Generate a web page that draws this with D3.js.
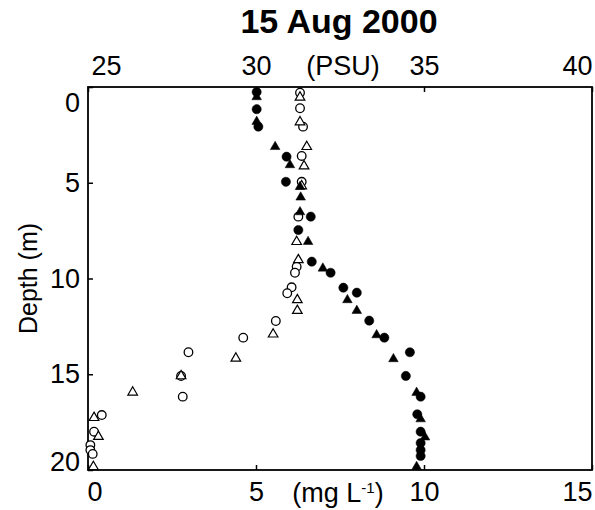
<!DOCTYPE html>
<html>
<head>
<meta charset="utf-8">
<script src="https://cdn.jsdelivr.net/npm/d3@7"></script>
<style>
  body { margin: 0; background: #fff; }
  svg text { font-family: Arial, "Liberation Sans", sans-serif; fill: #000; }
</style>
</head>
<body>
<div id="chart"></div>
<script>
// salinity (top axis, PSU) - filled markers
const salCircleDepth = [0.26, 1.16, 2.07, 3.64, 4.95, 6.77, 7.47, 9.12, 9.70, 10.48, 10.74, 12.2, 13.09, 13.85, 15.09, 16.17, 17.09, 18.0, 18.59, 18.96, 19.27];
const salCircleValue = [30.02, 30.02, 30.07, 30.91, 30.89, 31.63, 31.26, 31.66, 32.22, 32.60, 33.0, 33.37, 33.82, 34.58, 34.46, 34.90, 34.80, 34.90, 34.90, 34.90, 34.90];
const salTriDepth = [0.52, 1.81, 3.12, 4.07, 5.21, 5.76, 6.53, 8.08, 9.47, 11.12, 11.68, 12.95, 14.2, 15.96, 17.34, 18.29, 19.83];
const salTriValue = [30.02, 30.02, 30.57, 31.01, 31.31, 31.33, 31.31, 31.55, 31.99, 32.72, 33.0, 33.59, 34.09, 34.78, 34.90, 35.03, 34.78];

// oxygen (bottom axis, mg/L) - open markers
const oxyCircleDepth = [0.30, 1.11, 2.07, 3.60, 4.95, 6.77, 9.38, 9.70, 10.46, 10.77, 12.22, 13.09, 13.85, 15.09, 16.17, 17.13, 18.0, 18.7, 18.96, 19.16];
const oxyCircleValue = [6.31, 6.31, 6.40, 6.36, 6.36, 6.26, 6.21, 6.16, 6.06, 5.93, 5.59, 4.62, 2.99, 2.77, 2.82, 0.41, 0.18, 0.07, 0.07, 0.14];
const oxyTriDepth = [0.54, 1.83, 3.12, 4.13, 5.17, 8.08, 9.03, 11.12, 11.68, 12.91, 14.17, 15.09, 15.94, 17.27, 18.26, 19.83];
const oxyTriValue = [6.31, 6.31, 6.51, 6.43, 6.36, 6.21, 6.26, 6.23, 6.23, 5.51, 4.40, 2.77, 1.33, 0.18, 0.31, 0.16];

const depthTicks = [0, 5, 10, 15, 20];
const oxyTicks = [0, 5, 10, 15];
const salTicks = [25, 30, 35, 40];

const width = 595, height = 510;
const margin = { top: 87, right: 3, bottom: 40, left: 88 };

const svg = d3.select("#chart").append("svg")
  .attr("width", width)
  .attr("height", height);

const x = d3.scaleLinear().domain([0, 15]).range([margin.left, width - margin.right]);
const xTop = d3.scaleLinear().domain([25, 40]).range([margin.left, width - margin.right]);
const y = d3.scaleLinear().domain([0, 20]).range([margin.top, height - margin.bottom]);

// axes with inward ticks
const gBottom = svg.append("g")
  .attr("transform", `translate(0,${y(20)})`)
  .call(d3.axisBottom(x).tickValues(oxyTicks).tickFormat(d3.format("d")).tickSizeInner(-5).tickSizeOuter(0).tickPadding(12));
const gTop = svg.append("g")
  .attr("transform", `translate(0,${y(0)})`)
  .call(d3.axisTop(xTop).tickValues(salTicks).tickFormat(d3.format("d")).tickSizeInner(-5).tickSizeOuter(0).tickPadding(12));
const gLeft = svg.append("g")
  .attr("transform", `translate(${x(0)},0)`)
  .call(d3.axisLeft(y).tickValues(depthTicks).tickFormat(d3.format("d")).tickSizeInner(-5).tickSizeOuter(0).tickPadding(8));

[gBottom, gTop, gLeft].forEach(g => {
  g.select(".domain").remove();
  g.selectAll(".tick line").attr("stroke", "#000").attr("stroke-width", 1.5);
  g.selectAll(".tick text").style("font-size", "27px");
});

// end labels pulled inside the frame like the original
gBottom.selectAll(".tick text").attr("text-anchor", d => d === 0 ? "start" : d === 15 ? "end" : "middle")
  .attr("dx", d => d === 0 ? "-1" : 0);
gTop.selectAll(".tick text").attr("text-anchor", d => d === 25 ? "start" : d === 40 ? "end" : "middle")
  .attr("dx", d => d === 25 ? "3" : 0);
gLeft.selectAll(".tick text")
  .attr("dy", d => d === 0 ? "0.9em" : d === 20 ? "0" : "0.32em");

// frame
svg.append("rect")
  .attr("x", x(0)).attr("y", y(0))
  .attr("width", x(15) - x(0)).attr("height", y(20) - y(0))
  .attr("fill", "none").attr("stroke", "#000").attr("stroke-width", 1.8);

// unit labels
svg.append("text").attr("x", 343).attr("y", y(0) - 12)
  .attr("text-anchor", "middle").style("font-size", "27px").text("(PSU)");
const unit = svg.append("text").attr("x", 338).attr("y", y(20) + 32)
  .attr("text-anchor", "middle").style("font-size", "27px");
unit.append("tspan").text("(mg L");
unit.append("tspan").attr("dy", -9).style("font-size", "15px").text("-1");
unit.append("tspan").attr("dy", 9).text(")");

svg.append("text").attr("x", 339).attr("y", 33)
  .attr("text-anchor", "middle").style("font-size", "34px").style("font-weight", "bold")
  .text("15 Aug 2000");

svg.append("text")
  .attr("transform", `translate(37,${(y(0) + y(20)) / 2}) rotate(-90)`)
  .attr("text-anchor", "middle").style("font-size", "25px").text("Depth (m)");

// markers
const tri = d3.symbol().type(d3.symbolTriangle).size(40);
const plot = svg.append("g");

function circles(vals, depths, scale, filled) {
  plot.selectAll(null).data(vals.map((v, i) => [v, depths[i]])).join("circle")
    .attr("cx", d => scale(d[0])).attr("cy", d => y(d[1])).attr("r", filled ? 4.6 : 4.3)
    .attr("fill", filled ? "#000" : "#fff")
    .attr("stroke", "#000").attr("stroke-width", filled ? 0.5 : 1.3);
}
function triangles(vals, depths, scale, filled) {
  plot.selectAll(null).data(vals.map((v, i) => [v, depths[i]])).join("path")
    .attr("transform", d => `translate(${scale(d[0])},${y(d[1])})`)
    .attr("d", tri)
    .attr("fill", filled ? "#000" : "#fff")
    .attr("stroke", "#000").attr("stroke-width", filled ? 0.5 : 1.2);
}

circles(oxyCircleValue, oxyCircleDepth, x, false);
triangles(oxyTriValue, oxyTriDepth, x, false);
circles(salCircleValue, salCircleDepth, xTop, true);
triangles(salTriValue, salTriDepth, xTop, true);
</script>
</body>
</html>
